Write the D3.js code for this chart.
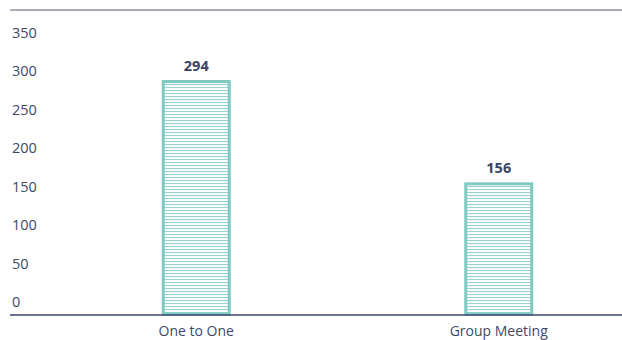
<!DOCTYPE html>
<html>
<head>
<meta charset="utf-8">
<script src="https://cdn.jsdelivr.net/npm/d3@7"></script>
<style>
  body { margin: 0; background: #fff; }
  svg { display: block; font-family: "Open Sans", sans-serif; }
</style>
</head>
<body>
<svg id="chart" width="622" height="340"></svg>
<script>
const categories = ['One to One', 'Group Meeting'];
const counts = [294, 156];
const tickValues = [0, 50, 100, 150, 200, 250, 300, 350];

const width = 622;
const height = 340;
const baseline = 314;

const svg = d3.select('#chart');

// stripe fill for the bars
const pattern = svg.append('defs')
  .append('pattern')
    .attr('id', 'stripes')
    .attr('patternUnits', 'userSpaceOnUse')
    .attr('width', 8)
    .attr('height', 3);
pattern.append('rect')
  .attr('width', 8).attr('height', 3).attr('fill', '#ffffff');
pattern.append('rect')
  .attr('y', 0).attr('width', 8).attr('height', 1.1).attr('fill', '#98d4cd');

const x = d3.scaleBand()
  .domain(categories)
  .range([45, 650]);

const y = d3.scaleLinear()
  .domain([0, 350])
  .range([299.5, 40]);

// tick labels sit on their own spacing
const yLabel = d3.scaleLinear()
  .domain([0, 350])
  .range([302, 32.5]);

const barWidth = 66;

// top rule
svg.append('line')
  .attr('x1', 10).attr('x2', width)
  .attr('y1', 10).attr('y2', 10)
  .attr('stroke', '#8b909f')
  .attr('stroke-width', 1.5);

svg.append('g')
  .selectAll('text')
  .data(tickValues)
  .join('text')
    .attr('x', 12)
    .attr('y', d => yLabel(d))
    .attr('dy', '0.35em')
    .attr('font-size', 14.5)
    .attr('fill', '#414966')
    .text(d => d);

svg.append('g')
  .selectAll('rect')
  .data(counts)
  .join('rect')
    .attr('x', (d, i) => x(categories[i]) + x.bandwidth() / 2 - barWidth / 2)
    .attr('y', d => y(d))
    .attr('width', barWidth)
    .attr('height', d => baseline - y(d))
    .attr('fill', 'url(#stripes)')
    .attr('stroke', '#7fcac2')
    .attr('stroke-width', 3);

svg.append('g')
  .selectAll('text')
  .data(counts)
  .join('text')
    .attr('x', (d, i) => x(categories[i]) + x.bandwidth() / 2)
    .attr('y', d => y(d) - 11)
    .attr('text-anchor', 'middle')
    .attr('font-size', 14.5)
    .attr('font-weight', 'bold')
    .attr('fill', '#394365')
    .text(d => d);

// baseline
svg.append('line')
  .attr('x1', 10).attr('x2', width)
  .attr('y1', baseline + 1).attr('y2', baseline + 1)
  .attr('stroke', '#3b4468')
  .attr('stroke-width', 1.5);

svg.append('g')
  .selectAll('text')
  .data(categories)
  .join('text')
    .attr('x', d => x(d) + x.bandwidth() / 2)
    .attr('y', 336)
    .attr('text-anchor', 'middle')
    .attr('font-size', 14)
    .attr('fill', '#414966')
    .text(d => d);
</script>
</body>
</html>
